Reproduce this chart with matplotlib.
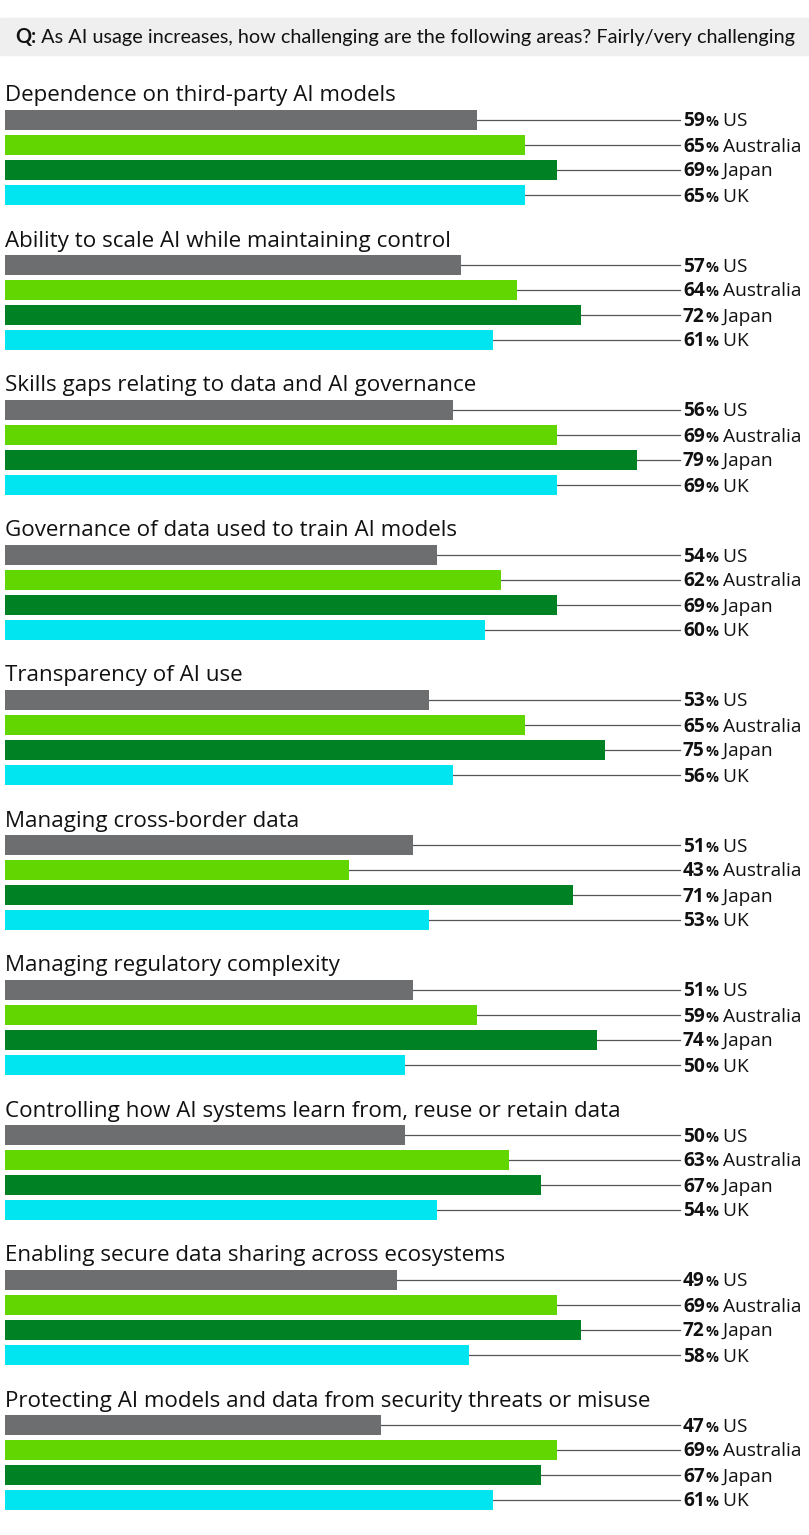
import matplotlib
matplotlib.use("Agg")
import matplotlib.pyplot as plt
from matplotlib.transforms import offset_copy

categories = [
    "Dependence on third-party AI models",
    "Ability to scale AI while maintaining control",
    "Skills gaps relating to data and AI governance",
    "Governance of data used to train AI models",
    "Transparency of AI use",
    "Managing cross-border data",
    "Managing regulatory complexity",
    "Controlling how AI systems learn from, reuse or retain data",
    "Enabling secure data sharing across ecosystems",
    "Protecting AI models and data from security threats or misuse",
]
countries = ["US", "Australia", "Japan", "UK"]
us = [59, 57, 56, 54, 53, 51, 51, 50, 49, 47]
australia = [65, 64, 69, 62, 65, 43, 59, 63, 69, 69]
japan = [69, 72, 79, 69, 75, 71, 74, 67, 72, 67]
uk = [65, 61, 69, 60, 56, 53, 50, 54, 58, 61]
series = [us, australia, japan, uk]
colors = ["#6d6e70", "#62d600", "#008224", "#00e5ef"]
header_q = "Q:"
header_text = " As AI usage increases, how challenging are the following areas? Fairly/very challenging"

W, H = 809, 1535
fig = plt.figure(figsize=(W / 100, H / 100), dpi=100)
ax = fig.add_axes([0, 0, 1, 1])
px = 8.0  # pixels per percent
x0 = 5.0
ax.set_xlim(-x0 / px, (W - x0) / px)
ax.set_ylim(H, 0)
ax.axis("off")
fig.canvas.draw()
r = fig.canvas.get_renderer()

body_font = ["Open Sans", "DejaVu Sans"]
hfont = ["Lato", "DejaVu Sans"]
ink = "#111111"


def fit_size(text, family, target_px, weight="normal", base=12.0):
    t = ax.text(0, 0, text, fontsize=base, family=family, fontweight=weight)
    w = t.get_window_extent(r).width
    t.remove()
    return base * target_px / w


# header
hdr = plt.Rectangle((-x0 / px, 18), W / px, 37, color="#efefef", zorder=0)
ax.add_patch(hdr)
hs = fit_size(header_q + header_text, hfont, 780)
t1 = ax.text((15 - x0) / px, 37, header_q, fontsize=hs, fontweight="bold", family=hfont,
             va="center", ha="left", color=ink)
bb = t1.get_window_extent(r)
ax.text((15 - x0) / px, 37, header_text, fontsize=hs, family=hfont, va="center", ha="left", color=ink,
        transform=offset_copy(ax.transData, fig=fig, x=bb.width, y=0, units="dots"))

title_size = 0.5 * (fit_size(categories[0], body_font, 392) + fit_size(categories[-1], body_font, 636))
label_size = fit_size("65% Australia", body_font, 121)

line_end = (680 - x0) / px
label_x = (683 - x0) / px
first_center = 120.0
group_pitch = 145.0
bar_pitch = 25.0
bar_h = 20.0

for g, cat in enumerate(categories):
    base = first_center + g * group_pitch
    ax.text(0, base - 24, cat, fontsize=title_size, family=body_font, va="center", ha="left",
            color=ink)
    for k, (vals, c, name) in enumerate(zip(series, colors, countries)):
        y = base + k * bar_pitch
        v = vals[g]
        ax.barh(y, v, height=bar_h, left=0, color=c, zorder=2)
        ax.plot([v, line_end], [y, y], color="#555555", lw=0.9, zorder=1)
        tn = ax.text(label_x, y + 1.5, f"{v}", fontsize=label_size, fontweight="bold", family=body_font,
                     va="center", ha="left", color=ink)
        w1 = tn.get_window_extent(r).width
        tp = ax.text(label_x, y + 1.5, "%", fontsize=label_size * 0.75, fontweight="bold", family=body_font,
                     va="center", ha="left", color=ink,
                     transform=offset_copy(ax.transData, fig=fig, x=w1 + 0.5, y=-1, units="dots"))
        w2 = tp.get_window_extent(r).width
        ax.text(label_x, y + 1.5, " " + name, fontsize=label_size, family=body_font,
                va="center", ha="left", color=ink,
                transform=offset_copy(ax.transData, fig=fig, x=w1 + w2 + 0.5, y=0, units="dots"))

fig.savefig("out.png", dpi=100)
